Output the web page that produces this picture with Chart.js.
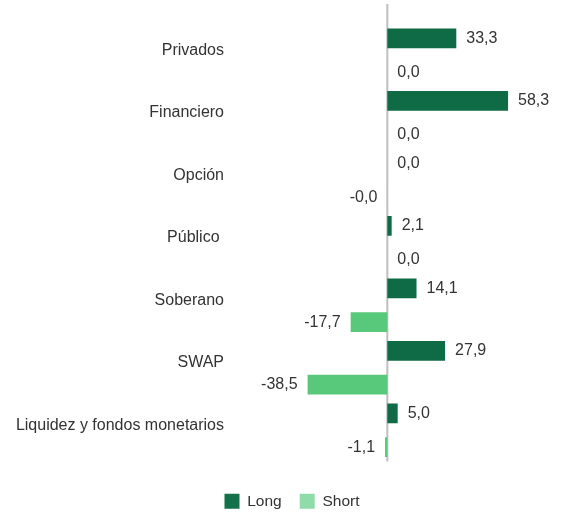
<!DOCTYPE html>
<html>
<head>
<meta charset="utf-8">
<script src="https://cdn.jsdelivr.net/npm/chart.js@4/dist/chart.umd.min.js"></script>
<style>
    html, body { margin: 0; padding: 0; background: #fff; }
    #wrap { width: 564px; height: 513px; position: relative; }
</style>
</head>
<body>
<div id="wrap"><canvas id="bar-graph"></canvas></div>
<script>
const categories = ["Privados", "Financiero", "Opción", "Público ", "Soberano", "SWAP", "Liquidez y fondos monetarios"];
const longValues = [33.3, 58.3, 0.0, 2.1, 14.1, 27.9, 5.0];
const shortValues = [0.0, 0.0, -0.02, 0.0, -17.7, -38.5, -1.1];
const seriesNames = ["Long", "Short"];
const barColors = ["#0f6b45", "#58c87b"];
const legendColors = ["#14704a", "#8fdba9"];

const FONT = "'Liberation Sans', Arial, sans-serif";

// gray zero line, runs a bit above the plot like the original
const zeroLine = {
    id: 'zeroLine',
    beforeDatasetsDraw(chart) {
        const x0 = chart.scales.x.getPixelForValue(0);
        const ctx = chart.ctx;
        ctx.save();
        ctx.strokeStyle = '#bfbfbf';
        ctx.lineWidth = 2;
        ctx.beginPath();
        ctx.moveTo(x0, chart.chartArea.top - 20);
        ctx.lineTo(x0, chart.chartArea.bottom);
        ctx.stroke();
        ctx.restore();
    }
};

// value labels next to the bar ends
const valueLabels = {
    id: 'valueLabels',
    afterDatasetsDraw(chart) {
        const ctx = chart.ctx;
        ctx.save();
        ctx.font = "16px " + FONT;
        ctx.fillStyle = '#333';
        ctx.textBaseline = 'middle';
        chart.data.datasets.forEach((ds, i) => {
            chart.getDatasetMeta(i).data.forEach((bar, j) => {
                const v = ds.data[j];
                const txt = v.toFixed(1).replace('.', ',');
                if (v < 0) {
                    ctx.textAlign = 'right';
                    ctx.fillText(txt, bar.x - 10, bar.y);
                } else {
                    ctx.textAlign = 'left';
                    ctx.fillText(txt, bar.x + 10, bar.y);
                }
            });
        });
        ctx.restore();
    }
};

// nudge the legend a little lower and to the right
const legendShift = {
    id: 'legendShift',
    afterLayout(chart) {
        const lg = chart.legend;
        lg.top += 6; lg.bottom += 6;
        lg.left += 8; lg.right += 8;
    }
};

let chart = new Chart(document.getElementById('bar-graph').getContext('2d'), {
    type: 'bar',
    data: {
        labels: categories,
        datasets: [
            {
                label: seriesNames[0],
                data: longValues,
                backgroundColor: barColors[0],
                categoryPercentage: 1.08,
                barPercentage: 0.59
            },
            {
                label: seriesNames[1],
                data: shortValues,
                backgroundColor: barColors[1],
                categoryPercentage: 1.08,
                barPercentage: 0.59
            }
        ]
    },
    options: {
        indexAxis: 'y',
        responsive: true,
        maintainAspectRatio: false,
        animation: false,
        layout: {
            padding: { left: 15, right: 11, top: 24, bottom: 0 }
        },
        scales: {
            x: {
                min: -75,
                max: 80,
                grid: { display: false },
                border: { display: false },
                ticks: { display: false }
            },
            y: {
                grid: { display: false, drawTicks: false },
                border: { display: false },
                ticks: {
                    padding: 8,
                    labelOffset: -5,
                    color: '#333',
                    font: { family: FONT, size: 16 }
                },
                afterFit(scale) { scale.width = 217; }
            }
        },
        plugins: {
            legend: {
                display: true,
                position: 'bottom',
                labels: {
                    boxWidth: 15,
                    boxHeight: 15,
                    padding: 18,
                    color: '#333',
                    font: { family: FONT, size: 15.5 },
                    generateLabels(chart) {
                        const items = Chart.defaults.plugins.legend.labels.generateLabels(chart);
                        items.forEach((it, i) => {
                            it.fillStyle = legendColors[i];
                            it.strokeStyle = legendColors[i];
                            it.lineWidth = 0;
                        });
                        return items;
                    }
                }
            },
            tooltip: { enabled: false }
        }
    },
    plugins: [zeroLine, valueLabels, legendShift]
});
</script>
</body>
</html>
